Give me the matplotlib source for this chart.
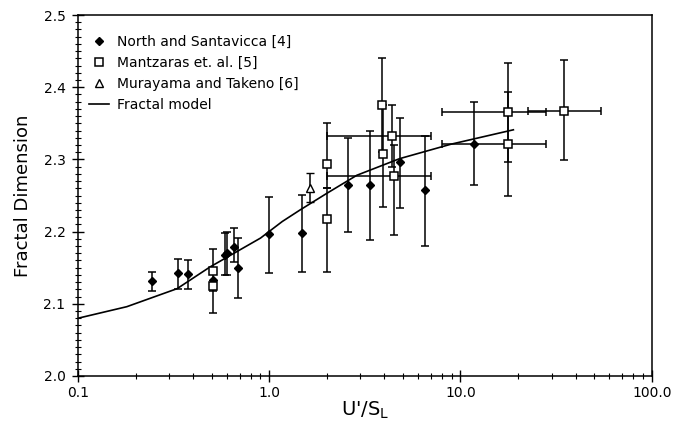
import numpy as np
import matplotlib
matplotlib.use('Agg')
import matplotlib.pyplot as plt
from matplotlib.lines import Line2D
from matplotlib.ticker import FixedLocator, MultipleLocator, NullFormatter

# North and Santavicca [4]
north_x = [0.243, 0.333, 0.374, 0.51, 0.59, 0.605, 0.656, 0.686, 1.0, 1.48, 2.58, 3.38, 4.8, 6.56, 11.7]
north_y = [2.131, 2.142, 2.141, 2.133, 2.168, 2.171, 2.179, 2.150, 2.196, 2.198, 2.264, 2.264, 2.296, 2.257, 2.321]
north_lo = [2.118, 2.121, 2.120, 2.118, 2.140, 2.140, 2.158, 2.108, 2.142, 2.144, 2.199, 2.189, 2.232, 2.180, 2.265]
north_hi = [2.144, 2.162, 2.161, 2.145, 2.198, 2.200, 2.205, 2.191, 2.248, 2.251, 2.329, 2.340, 2.358, 2.332, 2.379]

# Mantzaras et. al. [5]
mantz_x = [0.51, 0.51, 2.0, 2.0, 3.89, 3.95, 4.4, 4.5, 17.8, 17.8, 34.8]
mantz_y = [2.146, 2.124, 2.293, 2.217, 2.375, 2.308, 2.333, 2.277, 2.366, 2.321, 2.367]
mantz_lo = [2.146, 2.087, 2.260, 2.144, 2.310, 2.234, 2.290, 2.195, 2.297, 2.249, 2.299]
mantz_hi = [2.176, 2.124, 2.351, 2.260, 2.441, 2.375, 2.375, 2.320, 2.433, 2.393, 2.437]
mantz_xlo = [0.51, 0.51, 2.0, 2.0, 3.89, 3.95, 2.0, 2.0, 7.96, 7.96, 22.5]
mantz_xhi = [0.51, 0.51, 2.0, 2.0, 3.89, 3.95, 6.97, 6.97, 27.9, 27.9, 54.0]

# Murayama and Takeno [6]
mura_x = [1.625]
mura_y = [2.261]
mura_lo = [2.241]
mura_hi = [2.281]

# Fractal model
model_x = [0.1, 0.18, 0.33, 0.49, 0.9, 1.17, 1.45, 2.0, 2.87, 4.8, 8.9, 18.9]
model_y = [2.080, 2.096, 2.121, 2.151, 2.191, 2.214, 2.230, 2.253, 2.278, 2.301, 2.321, 2.341]

fig = plt.figure(figsize=(6.74, 4.25), dpi=100)
ax = fig.add_axes([0.1157, 0.1153, 0.8513, 0.8494])

ax.plot(model_x, model_y, color='black', lw=1.2)

ny = np.array(north_y)
ax.errorbar(north_x, north_y,
            yerr=[ny - np.array(north_lo), np.array(north_hi) - ny],
            fmt='D', color='black', ms=4.5, ecolor='black', elinewidth=1.1,
            capsize=3, capthick=1.1)

my = np.array(mantz_y)
mx = np.array(mantz_x)
ax.errorbar(mantz_x, mantz_y,
            yerr=[my - np.array(mantz_lo), np.array(mantz_hi) - my],
            xerr=[mx - np.array(mantz_xlo), np.array(mantz_xhi) - mx],
            fmt='s', mfc='white', mec='black', mew=1.1, ms=6, ecolor='black',
            elinewidth=1.1, capsize=3, capthick=1.1)

ty = np.array(mura_y)
ax.errorbar(mura_x, mura_y,
            yerr=[ty - np.array(mura_lo), np.array(mura_hi) - ty],
            fmt='^', mfc='white', mec='black', mew=1.0, ms=6, ecolor='black',
            elinewidth=1.1, capsize=3, capthick=1.1)

ax.set_xscale('log')
ax.set_xlim(0.1, 100)
ax.set_ylim(2.0, 2.5)
ax.set_xticks([0.1, 1, 10, 100])
ax.set_xticklabels(['0.1', '1.0', '10.0', '100.0'])
minors = [m * 10.0 ** e for e in (-1, 0, 1) for m in range(2, 10)]
ax.xaxis.set_minor_locator(FixedLocator(minors))
ax.xaxis.set_minor_formatter(NullFormatter())
ax.set_yticks([2.0, 2.1, 2.2, 2.3, 2.4, 2.5])
ax.set_yticklabels(['2.0', '2.1', '2.2', '2.3', '2.4', '2.5'])
ax.yaxis.set_minor_locator(MultipleLocator(0.01))

ax.tick_params(which='major', direction='inout', length=8, width=1, labelsize=10, pad=5)
ax.tick_params(which='minor', direction='inout', length=4, width=0.8)
ax.tick_params(axis='x', which='major', pad=3)
for s in ax.spines.values():
    s.set_linewidth(1.1)

ax.set_ylabel('Fractal Dimension', fontsize=13, labelpad=8)
ax.set_xlabel("U'/S$_\\mathrm{L}$", fontsize=14, labelpad=0)

handles = [
    Line2D([], [], ls='none', marker='D', color='black', ms=4.5),
    Line2D([], [], ls='none', marker='s', mfc='white', mec='black', mew=1.1, ms=6),
    Line2D([], [], ls='none', marker='^', mfc='white', mec='black', mew=1.0, ms=6),
    Line2D([], [], color='black', lw=1.2),
]
labels = ['North and Santavicca [4]', 'Mantzaras et. al. [5]',
          'Murayama and Takeno [6]', 'Fractal model']
ax.legend(handles, labels, loc='upper left', frameon=False, fontsize=10,
          handlelength=1.4, handletextpad=0.6, labelspacing=0.5,
          borderaxespad=0.4, bbox_to_anchor=(0.0, 0.975))

plt.savefig('out.png', dpi=100)
